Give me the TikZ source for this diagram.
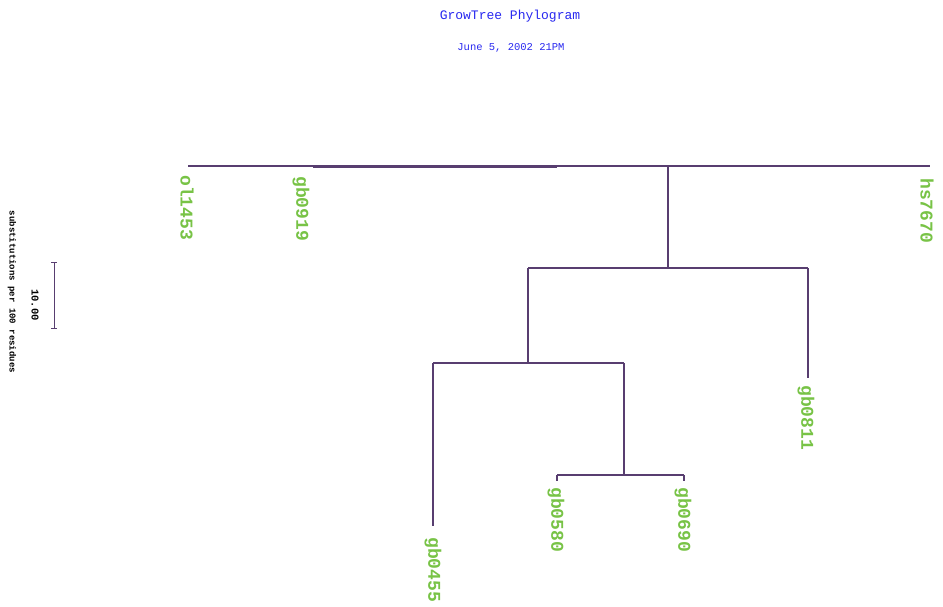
\documentclass[tikz,border=0pt]{standalone}
\usepackage{fontspec}
\setmonofont{Liberation Mono}
\definecolor{branch}{RGB}{88,62,112}
\definecolor{leafgreen}{RGB}{120,195,70}
\definecolor{titleblue}{RGB}{40,40,240}
\begin{document}
\begin{tikzpicture}[x=1pt,y=-1pt,
  br/.style={draw=branch,line width=1.1pt},
  leaf/.style={text=leafgreen,font=\ttfamily\bfseries\fontsize{18}{18}\selectfont,rotate=-90,anchor=west,inner sep=0pt},
  ttl/.style={text=titleblue,font=\ttfamily\fontsize{13}{13}\selectfont,inner sep=0pt},
  side/.style={font=\ttfamily\bfseries\fontsize{9}{9}\selectfont,rotate=-90,inner sep=0pt}]
\useasboundingbox[fill=white] (0,0) rectangle (943,606);

% header
\node[ttl] (title) at (510,16) {GrowTree Phylogram};
\node[ttl,font=\ttfamily\fontsize{10.5}{10.5}\selectfont] (date) at (511,48) {June 5, 2002 21PM};

% scale
\node[side] (units) at (12,292) {substitutions per 100 residues};
\node[side,font=\ttfamily\bfseries\fontsize{10.5}{10.5}\selectfont] (scale) at (35,305) {10.00};
\coordinate (s1) at (54,262);
\coordinate (s2) at (54,328);
\draw[br,line width=1pt] (s1) -- (s2);
\draw[br,line width=1pt] ([xshift=-3]s1) -- ([xshift=3]s1);
\draw[br,line width=1pt] ([xshift=-3]s2) -- ([xshift=3]s2);

% tree junctions
\coordinate (t0) at (188,166);
\coordinate (t1) at (930,166);
\coordinate (d1) at (313,167);
\coordinate (d2) at (557,167);
\coordinate (n1) at (668,166);
\coordinate (n1b) at (668,268);
\coordinate (n2a) at (528,268);
\coordinate (n2b) at (808,268);
\coordinate (n3) at (528,363);
\coordinate (n3a) at (433,363);
\coordinate (n3b) at (624,363);
\coordinate (n4) at (624,475);
\coordinate (n4a) at (557,475);
\coordinate (n4b) at (684,475);
\coordinate (e811) at (808,378);
\coordinate (e455) at (433,526);
\coordinate (e580) at (557,481);
\coordinate (e690) at (684,481);

% leaves
\node[leaf] (ol1453) at (187,175) {ol1453};
\node[leaf] (gb0919) at (301,176) {gb0919};
\node[leaf] (hs7670) at (927,178) {hs7670};
\node[leaf] (gb0811) at (806,385) {gb0811};
\node[leaf] (gb0455) at (433,537) {gb0455};
\node[leaf] (gb0580) at (556,487) {gb0580};
\node[leaf] (gb0690) at (683,487) {gb0690};

% branches
\draw[br] (t0) -- (t1);
\draw[br,line width=2.4pt] (d1) -- (d2);
\draw[br] (n1) -- (n1b);
\draw[br] (n2a) -- (n2b);
\draw[br] (n2b) -- (e811);
\draw[br] (n2a) -- (n3);
\draw[br] (n3a) -- (n3b);
\draw[br] (n3a) -- (e455);
\draw[br] (n3b) -- (n4);
\draw[br] (n4a) -- (n4b);
\draw[br] (n4a) -- (e580);
\draw[br] (n4b) -- (e690);
\end{tikzpicture}
\end{document}
